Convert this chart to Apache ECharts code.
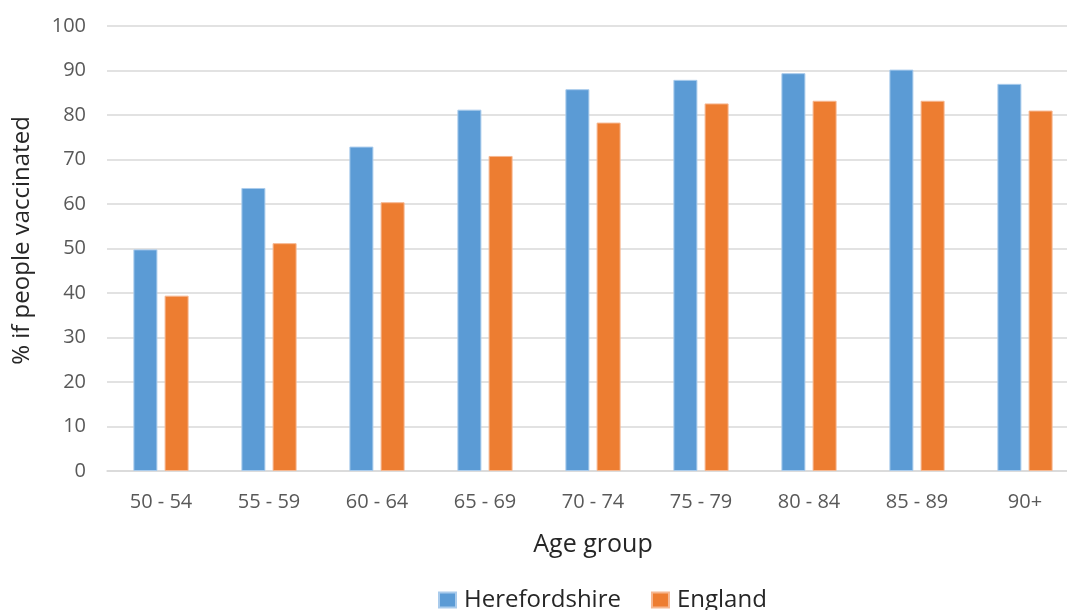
<!DOCTYPE html>
<html>
<head>
<meta charset="utf-8">
<script src="https://cdn.jsdelivr.net/npm/echarts@6/dist/echarts.min.js"></script>
<style>
  html, body { margin: 0; padding: 0; background: #ffffff; }
  #chart { width: 1067px; height: 610px; }
</style>
</head>
<body>
<div id="chart"></div>
<script>
// Vaccination uptake by age group
const ageGroups = ['50 - 54', '55 - 59', '60 - 64', '65 - 69', '70 - 74', '75 - 79', '80 - 84', '85 - 89', '90+'];
const herefordshire = [49.8, 63.6, 72.9, 81.2, 85.8, 87.9, 89.4, 90.2, 87.0];
const england = [39.4, 51.2, 60.4, 70.8, 78.3, 82.6, 83.2, 83.2, 81.0];

const fontFamily = '"Open Sans", "Noto Sans", sans-serif';

const chart = echarts.init(document.getElementById('chart'), null, { renderer: 'canvas' });

chart.setOption({
  animation: false,
  backgroundColor: '#ffffff',
  textStyle: { fontFamily: fontFamily },
  // plot area runs slightly past the right edge of the canvas
  grid: {
    left: 107, width: 972, top: 26, height: 445,
    containLabel: false, outerBoundsMode: 'none'
  },
  legend: {
    top: 583,
    left: 433,
    itemWidth: 17,
    itemHeight: 15,
    itemGap: 30,
    icon: 'rect',
    textStyle: { fontSize: 24, color: '#262626', fontFamily: fontFamily, padding: [0, 0, 0, 3] },
    data: ['Herefordshire', 'England']
  },
  xAxis: {
    type: 'category',
    data: ageGroups,
    name: 'Age group',
    nameLocation: 'middle',
    nameGap: 61,
    nameMoveOverlap: false,
    nameTextStyle: { fontSize: 25, color: '#262626', fontFamily: fontFamily },
    axisLine: { show: true, lineStyle: { color: '#d9d9d9', width: 1.5 } },
    axisTick: { show: false },
    axisLabel: { fontSize: 20, color: '#595959', margin: 21, fontFamily: fontFamily }
  },
  yAxis: {
    type: 'value',
    min: 0,
    max: 100,
    interval: 10,
    name: '% if people vaccinated',
    nameLocation: 'middle',
    nameGap: 73,
    nameMoveOverlap: false,
    nameTextStyle: { fontSize: 24, color: '#262626', fontFamily: fontFamily, padding: [0, 0, 0, 16] },
    axisLine: { show: false },
    axisTick: { show: false },
    axisLabel: { fontSize: 20, color: '#595959', margin: 21, fontFamily: fontFamily },
    splitLine: { lineStyle: { color: '#d9d9d9', width: 1.5 } }
  },
  series: [
    {
      name: 'Herefordshire',
      type: 'bar',
      data: herefordshire,
      barWidth: 24,
      barGap: '30%',
      itemStyle: { color: '#5b9bd5', borderColor: '#a9cbec', borderWidth: 1 }
    },
    {
      name: 'England',
      type: 'bar',
      data: england,
      barWidth: 24,
      barGap: '30%',
      itemStyle: { color: '#ed7d31', borderColor: '#f6b790', borderWidth: 1 }
    }
  ]
});
</script>
</body>
</html>
